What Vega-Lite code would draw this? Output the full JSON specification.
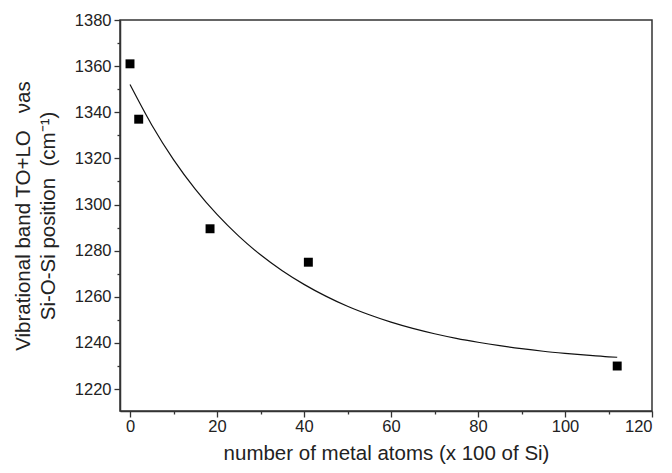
{
  "$schema": "https://vega.github.io/schema/vega-lite/v6.json",
  "width": 532,
  "height": 391,
  "autosize": "none",
  "padding": {"left": 120, "top": 20, "right": 20, "bottom": 62},
  "background": "white",
  "config": {
    "view": {"stroke": "#333", "strokeWidth": 1.5},
    "font": "Liberation Sans",
    "axis": {
      "grid": false,
      "domainColor": "#333",
      "domainWidth": 1.5,
      "tickColor": "#333",
      "tickWidth": 1.3,
      "labelFont": "Liberation Sans",
      "labelFontSize": 16.5,
      "labelColor": "#222",
      "titleFont": "Liberation Sans",
      "titleFontWeight": "normal",
      "titleColor": "#222"
    }
  },
  "datasets": {
    "pts": [
      {"x": 0, "y": 1361},
      {"x": 2, "y": 1337},
      {"x": 18.4, "y": 1289.5},
      {"x": 41, "y": 1275},
      {"x": 112, "y": 1230}
    ],
    "fit": [
      {"x": 0, "y": 1352.0}, {"x": 5, "y": 1334.5}, {"x": 10, "y": 1319.5},
      {"x": 15, "y": 1306.7}, {"x": 20, "y": 1295.7}, {"x": 25, "y": 1286.3},
      {"x": 30, "y": 1278.2}, {"x": 35, "y": 1271.3}, {"x": 40, "y": 1265.4},
      {"x": 45, "y": 1260.3}, {"x": 50, "y": 1255.9}, {"x": 55, "y": 1252.2},
      {"x": 60, "y": 1249.0}, {"x": 65, "y": 1246.3}, {"x": 70, "y": 1244.0},
      {"x": 75, "y": 1242.0}, {"x": 80, "y": 1240.3}, {"x": 85, "y": 1238.8},
      {"x": 90, "y": 1237.5}, {"x": 95, "y": 1236.4}, {"x": 100, "y": 1235.5},
      {"x": 105, "y": 1234.7}, {"x": 110, "y": 1234.0}, {"x": 112, "y": 1233.8}
    ]
  },
  "encoding": {
    "x": {
      "field": "x", "type": "quantitative",
      "scale": {"domain": [-2.3, 120], "nice": false, "zero": false},
      "axis": {
        "title": "number of metal atoms (x 100 of Si)",
        "titleFontSize": 20.5,
        "titlePadding": 9,
        "format": "d",
        "values": [0, 10, 20, 30, 40, 50, 60, 70, 80, 90, 100, 110, 120],
        "labelExpr": "datum.value % 20 === 0 ? datum.label : ''",
        "tickSize": {"condition": {"test": "datum.value % 20 === 0", "value": 6}, "value": 3},
        "labelPadding": 1
      }
    },
    "y": {
      "field": "y", "type": "quantitative",
      "scale": {"domain": [1210.5, 1380], "nice": false, "zero": false},
      "axis": {
        "title": ["Vibrational band TO+LO\u00a0\u00a0\u00a0νas", "Si-O-Si position\u00a0\u00a0(cm⁻¹)"],
        "titleFontSize": 20.5,
        "titleLineHeight": 25,
        "titlePadding": 16,
        "format": "d",
        "values": [1220, 1230, 1240, 1250, 1260, 1270, 1280, 1290, 1300, 1310, 1320, 1330, 1340, 1350, 1360, 1370, 1380],
        "labelExpr": "datum.value % 20 === 0 ? datum.label : ''",
        "tickSize": {"condition": {"test": "datum.value % 20 === 0", "value": 6}, "value": 3},
        "labelPadding": 3
      }
    }
  },
  "layer": [
    {
      "data": {"name": "fit"},
      "mark": {"type": "line", "color": "#111", "strokeWidth": 1.2, "interpolate": "monotone"}
    },
    {
      "data": {"name": "pts"},
      "mark": {"type": "square", "color": "#000", "opacity": 1, "size": 80, "filled": true}
    }
  ]
}
